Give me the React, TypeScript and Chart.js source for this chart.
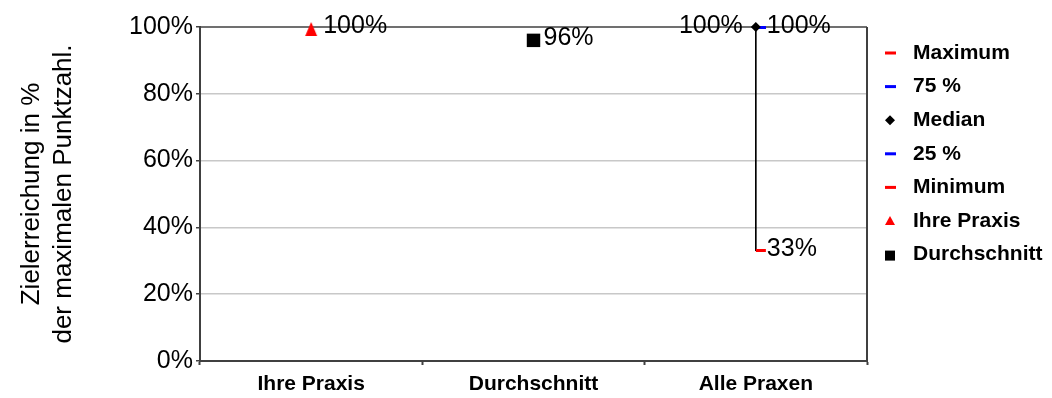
import React, { useEffect, useRef } from 'react';
import { Chart, registerables } from 'chart.js';

Chart.register(...registerables);

const categories = ['Ihre Praxis', 'Durchschnitt', 'Alle Praxen'];
const maximumValues: (number | null)[] = [null, null, 100];
const q75Values: (number | null)[] = [null, null, 100];
const medianValues: (number | null)[] = [null, null, 100];
const q25Values: (number | null)[] = [null, null, 100];
const minimumValues: (number | null)[] = [null, null, 33];
const ihrePraxisValues: (number | null)[] = [100, null, null];
const durchschnittValues: (number | null)[] = [null, 96, null];
const yTickStep = 20;
const yMin = 0;
const yMax = 100;
const legendNames = ['Maximum', '75 %', 'Median', '25 %', 'Minimum', 'Ihre Praxis', 'Durchschnitt'];
const yTitle = ['Zielerreichung in %', 'der maximalen Punktzahl.'];

const FONT = "'Liberation Sans', Arial, Helvetica, sans-serif";
const RED = '#ff0000';
const BLUE = '#0000ff';
const AXIS = '#404040';

function dashImage(color: string) {
  const c = document.createElement('canvas');
  c.width = 22;
  c.height = 3;
  const ctx = c.getContext('2d')!;
  ctx.fillStyle = color;
  ctx.fillRect(11, 0, 10, 3);
  return c;
}

function triangleImage(color: string) {
  const c = document.createElement('canvas');
  c.width = 14;
  c.height = 20;
  const ctx = c.getContext('2d')!;
  ctx.fillStyle = color;
  ctx.beginPath();
  ctx.moveTo(7, 5);
  ctx.lineTo(13, 19);
  ctx.lineTo(1, 19);
  ctx.closePath();
  ctx.fill();
  return c;
}

export default function App() {
  const ref = useRef<HTMLCanvasElement | null>(null);

  useEffect(() => {
    if (!ref.current) return;
    const redDash = dashImage(RED);
    const blueDash = dashImage(BLUE);
    const redTriangle = triangleImage(RED);

    const rangeData = categories.map((_, i) =>
      minimumValues[i] != null && maximumValues[i] != null ? [minimumValues[i], maximumValues[i]] : null
    );

    const labelSpecs = [
      { ds: 1, side: 'right', gap: 11, dy: -1 },
      { ds: 5, side: 'right', gap: 11, dy: -2 },
      { ds: 3, side: 'left', gap: 13, dy: -1 },
      { ds: 6, side: 'right', gap: 12, dy: -1 },
      { ds: 7, side: 'right', gap: 10, dy: -2 },
    ];

    const framePlugin = {
      id: 'frame',
      beforeDatasetsDraw(chart: any) {
        const { ctx, chartArea } = chart;
        ctx.save();
        ctx.strokeStyle = AXIS;
        ctx.lineWidth = 1.5;
        ctx.beginPath();
        ctx.moveTo(chartArea.left, chartArea.top);
        ctx.lineTo(chartArea.right, chartArea.top);
        ctx.stroke();
        ctx.lineWidth = 2;
        ctx.beginPath();
        ctx.moveTo(chartArea.right, chartArea.top);
        ctx.lineTo(chartArea.right, chartArea.bottom + 1);
        ctx.stroke();
        ctx.restore();
      },
    };

    const labelPlugin = {
      id: 'valueLabels',
      afterDatasetsDraw(chart: any) {
        const { ctx } = chart;
        ctx.save();
        ctx.font = `25px ${FONT}`;
        ctx.fillStyle = '#000';
        ctx.textBaseline = 'middle';
        labelSpecs.forEach((spec) => {
          const meta = chart.getDatasetMeta(spec.ds);
          const data = chart.data.datasets[spec.ds].data as (number | null)[];
          meta.data.forEach((pt: any, i: number) => {
            const v = data[i];
            if (v == null) return;
            ctx.textAlign = spec.side === 'left' ? 'right' : 'left';
            const x = spec.side === 'left' ? pt.x - spec.gap : pt.x + spec.gap;
            ctx.fillText(`${v}%`, x, pt.y + spec.dy);
          });
        });
        ctx.restore();
      },
    };

    const legendPlugin = {
      id: 'customLegend',
      afterDraw(chart: any) {
        const { ctx } = chart;
        ctx.save();
        const mx = 890;
        legendNames.forEach((name, i) => {
          const y = 53 + i * 33.6;
          if (i === 0 || i === 4) {
            ctx.fillStyle = RED;
            ctx.fillRect(mx - 5, y - 1.5, 11, 3);
          } else if (i === 1 || i === 3) {
            ctx.fillStyle = BLUE;
            ctx.fillRect(mx - 5, y - 1.5, 11, 3);
          } else if (i === 2) {
            ctx.fillStyle = '#000';
            ctx.beginPath();
            ctx.moveTo(mx, y - 5);
            ctx.lineTo(mx + 5, y);
            ctx.lineTo(mx, y + 5);
            ctx.lineTo(mx - 5, y);
            ctx.closePath();
            ctx.fill();
          } else if (i === 5) {
            ctx.fillStyle = RED;
            ctx.beginPath();
            ctx.moveTo(mx, y - 5);
            ctx.lineTo(mx + 5, y + 4);
            ctx.lineTo(mx - 5, y + 4);
            ctx.closePath();
            ctx.fill();
          } else if (i === 6) {
            ctx.fillStyle = '#000';
            ctx.fillRect(mx - 5, y - 4, 10, 10);
          }
          ctx.fillStyle = '#000';
          ctx.font = `bold 21px ${FONT}`;
          ctx.textAlign = 'left';
          ctx.textBaseline = 'middle';
          ctx.fillText(name, 913, y);
        });
        ctx.restore();
      },
    };

    const pointDs = (label: string, data: (number | null)[], style: any, radius: number, color: string, order: number) => ({
      type: 'line' as const,
      label,
      data,
      showLine: false,
      clip: false,
      pointStyle: style,
      pointRadius: radius,
      pointHoverRadius: radius,
      pointBackgroundColor: color,
      pointBorderColor: color,
      pointBorderWidth: 0,
      order,
    });

    const chart = new Chart(ref.current, {
      type: 'bar',
      data: {
        labels: categories,
        datasets: [
          {
            type: 'bar',
            label: 'range',
            data: rangeData as any,
            backgroundColor: '#000',
            borderWidth: 0,
            barThickness: 1,
            order: 100,
          } as any,
          pointDs('Maximum', maximumValues, redDash, 6, RED, 7),
          pointDs('75 %', q75Values, blueDash, 6, BLUE, 6),
          pointDs('Median', medianValues, 'rectRot', 5, '#000', 3),
          pointDs('25 %', q25Values, blueDash, 6, BLUE, 5),
          pointDs('Minimum', minimumValues, redDash, 6, RED, 4),
          pointDs('Ihre Praxis', ihrePraxisValues, redTriangle, 7, RED, 2),
          pointDs('Durchschnitt', durchschnittValues, 'rect', 9.5, '#000', 1),
        ],
      },
      options: {
        responsive: false,
        animation: false,
        devicePixelRatio: 1,
        layout: { padding: { top: 27, right: 185, bottom: 0, left: 0 } },
        plugins: {
          legend: { display: false },
          tooltip: { enabled: false },
        },
        scales: {
          x: {
            offset: true,
            grid: {
              offset: true,
              drawOnChartArea: false,
              drawTicks: true,
              tickLength: 4,
              tickWidth: 2,
              tickColor: AXIS,
              color: AXIS,
            },
            border: { color: AXIS, width: 2 },
            ticks: {
              color: '#000',
              font: { family: FONT, size: 21, weight: 'bold' },
              padding: 7,
              maxRotation: 0,
            },
            afterFit: (s: any) => {
              s.height = 37;
            },
          },
          y: {
            min: yMin,
            max: yMax,
            ticks: {
              stepSize: yTickStep,
              color: '#000',
              font: { family: FONT, size: 25 },
              padding: 3,
              callback: (v: any) => `${v}%`,
            },
            grid: {
              color: (c: any) => (c.tick && (c.tick.value === yMin || c.tick.value === yMax) ? 'rgba(0,0,0,0)' : '#c8c8c8'),
              lineWidth: 1.5,
              tickColor: AXIS,
              tickLength: 4,
              tickWidth: 1.5,
            },
            border: { color: AXIS, width: 2 },
            title: {
              display: true,
              text: yTitle,
              color: '#000',
              font: { family: FONT, size: 26, lineHeight: 1.23 },
              padding: { top: 16, bottom: 0 },
            },
            afterFit: (s: any) => {
              s.width = 200;
            },
          },
        },
      } as any,
      plugins: [framePlugin, labelPlugin, legendPlugin],
    });

    return () => chart.destroy();
  }, []);

  return (
    <div style={{ position: 'absolute', left: 0, top: 0, width: 1052, height: 398, background: '#fff' }}>
      <canvas ref={ref} width={1052} height={398} style={{ display: 'block' }} />
    </div>
  );
}
